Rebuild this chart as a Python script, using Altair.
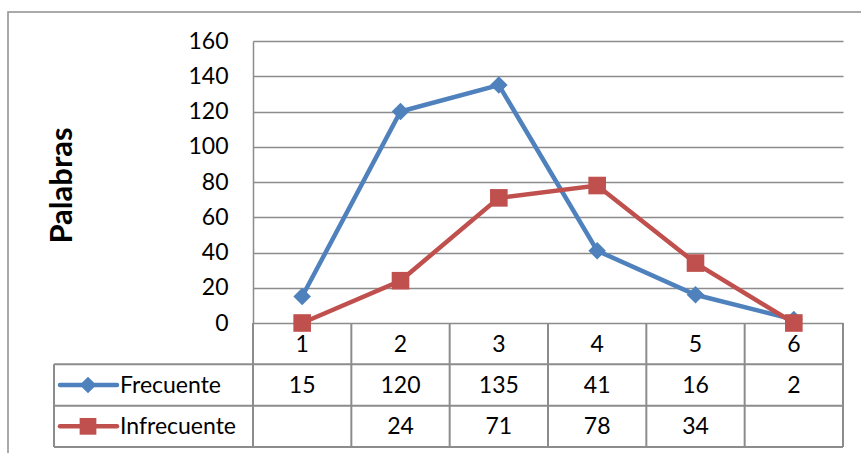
import altair as alt
import pandas as pd

# ---- data -------------------------------------------------------------
CATEGORIES = [1, 2, 3, 4, 5, 6]
SERIES = ["Frecuente", "Infrecuente"]
FRECUENTE = [15, 120, 135, 41, 16, 2]
INFRECUENTE = [None, 24, 71, 78, 34, None]   # empty cells, plotted as zero
Y_TICKS = [0, 20, 40, 60, 80, 100, 120, 140, 160]

COLORS = ["#4F81BD", "#C0504D"]
SHAPES = ["diamond", "square"]

# ---- layout (pixels) --------------------------------------------------
PLOT_L, PLOT_T, PLOT_R = 253, 41, 843
PLOT_W = PLOT_R - PLOT_L          # data columns
PLOT_H = 282                      # 0..160 band
TABLE_B = 447                     # bottom edge of the data table
VIEW_H = TABLE_B - PLOT_T
UNIT = PLOT_W / len(CATEGORIES)
FONT = "Lato"
FONT_SIZE = 23
GRID = "#8c8c8c"


def col(px):
    """Horizontal pixel -> position on the category scale."""
    return (px - PLOT_L) / UNIT + 0.5


LEG_L = col(54)
LEG_LINE = (col(60), col(117))
LEG_MARK = col(88)
LEG_TEXT = col(120)

# ---- tidy frames ------------------------------------------------------
rows = []
for s, vals in zip(SERIES, [FRECUENTE, INFRECUENTE]):
    for c, v in zip(CATEGORIES, vals):
        rows.append({
            "cat": c,
            "series": s,
            "value": 0 if v is None else v,
            "label": "" if v is None else str(v),
            "row": 1.52 + SERIES.index(s),
        })
df = pd.DataFrame(rows)

x_enc = alt.X("cat:Q", scale=alt.Scale(domain=[0.5, 6.5]), axis=None)
color_enc = alt.Color("series:N", scale=alt.Scale(domain=SERIES, range=COLORS), legend=None)
shape_enc = alt.Shape("series:N", scale=alt.Scale(domain=SERIES, range=SHAPES), legend=None)

y_plot = alt.Y(
    "value:Q",
    title="Palabras",
    scale=alt.Scale(domain=[0, 160], range=[PLOT_H, 0]),
    axis=alt.Axis(
        values=Y_TICKS, grid=True, gridColor=GRID, gridWidth=1.5,
        domain=True, domainColor=GRID, domainWidth=1.5,
        ticks=False, labelPadding=25, labelFont=FONT, labelFontSize=FONT_SIZE,
        labelColor="#000000",
        titleFont=FONT, titleFontSize=31, titleFontWeight="bold",
        titleColor="#000000", titleAngle=270, titleAlign="center",
        titleBaseline="middle", titleX=62 - PLOT_L, titleY=185 - PLOT_T,
    ),
)

# ---- line series (one line + markers per series) ----------------------
series_layers = []
for s in SERIES:
    sub = df[df["series"] == s]
    series_layers.append(
        alt.Chart(sub).mark_line(strokeWidth=4.5).encode(x=x_enc, y=y_plot, color=color_enc)
    )
    series_layers.append(
        alt.Chart(sub).mark_point(filled=True, opacity=1, size=310).encode(
            x=x_enc, y=y_plot, color=color_enc, shape=shape_enc)
    )
plot = alt.layer(*series_layers)

# ---- data table under the plot ----------------------------------------
y_tab = alt.Scale(domain=[0, 3], range=[PLOT_H, VIEW_H])

rules = []
for r in [1, 2, 3]:
    rules.append({"x": LEG_L, "x2": 6.5, "y": r, "y2": r})
rules.append({"x": LEG_L, "x2": LEG_L, "y": 1, "y2": 3})
for b in [c + 0.5 for c in [0] + CATEGORIES]:
    rules.append({"x": b, "x2": b, "y": 0, "y2": 3})
rules_df = pd.DataFrame(rules)

table_rules = alt.Chart(rules_df).mark_rule(color=GRID, strokeWidth=2).encode(
    x=alt.X("x:Q", scale=alt.Scale(domain=[0.5, 6.5]), axis=None),
    x2="x2:Q",
    y=alt.Y("y:Q", scale=y_tab, axis=None),
    y2="y2:Q",
)

cat_df = pd.DataFrame({"cat": CATEGORIES, "row": 0.53, "label": [str(c) for c in CATEGORIES]})
text_kw = dict(font=FONT, fontSize=FONT_SIZE, color="#000000", baseline="middle")

cat_text = alt.Chart(cat_df).mark_text(align="center", **text_kw).encode(
    x=x_enc, y=alt.Y("row:Q", scale=y_tab, axis=None), text="label:N")
val_text = alt.Chart(df).mark_text(align="center", **text_kw).encode(
    x=x_enc, y=alt.Y("row:Q", scale=y_tab, axis=None), text="label:N")

leg_df = pd.DataFrame({
    "series": SERIES,
    "row": [1.5, 2.5],
    "x": [LEG_LINE[0]] * 2,
    "x2": [LEG_LINE[1]] * 2,
    "xm": [LEG_MARK] * 2,
    "xt": [LEG_TEXT] * 2,
})
leg_y = alt.Y("row:Q", scale=y_tab, axis=None)
leg_line = alt.Chart(leg_df).mark_rule(strokeWidth=4.5, strokeCap="round").encode(
    x=alt.X("x:Q", scale=alt.Scale(domain=[0.5, 6.5]), axis=None), x2="x2:Q",
    y=leg_y, color=color_enc)
leg_mark = alt.Chart(leg_df).mark_point(filled=True, opacity=1, size=280).encode(
    x=alt.X("xm:Q", scale=alt.Scale(domain=[0.5, 6.5]), axis=None),
    y=leg_y, color=color_enc, shape=shape_enc)
leg_text = alt.Chart(leg_df.assign(row=[1.52, 2.52])).mark_text(align="left", **text_kw).encode(
    x=alt.X("xt:Q", scale=alt.Scale(domain=[0.5, 6.5]), axis=None),
    y=leg_y, text="series:N")

table = alt.layer(table_rules, cat_text, val_text, leg_line, leg_mark, leg_text)

# ---- chart frame -------------------------------------------------------
frame = alt.Chart(pd.DataFrame({"k": [0]})).mark_rect(
    fillOpacity=0, stroke="#8f8f8f", strokeWidth=1.5
).encode(
    x=alt.value(8 - PLOT_L), x2=alt.value(900),
    y=alt.value(12 - PLOT_T), y2=alt.value(600),
)

chart = (
    alt.layer(frame, table, plot)
    .resolve_scale(y="independent")
    .properties(
        width=PLOT_W, height=VIEW_H,
        padding={"left": PLOT_L, "top": PLOT_T, "right": 861 - PLOT_R, "bottom": 453 - TABLE_B},
        autosize=alt.AutoSizeParams(type="none"),
        background="white",
    )
    .configure_view(stroke=None)
)

chart.save("out.html", embed_options={"renderer": "svg", "actions": False})
